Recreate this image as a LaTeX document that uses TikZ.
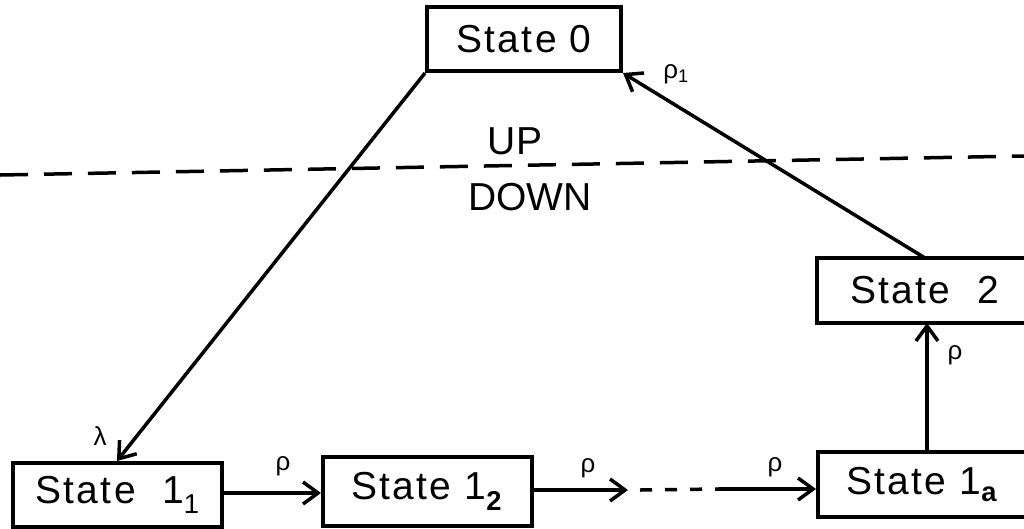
\documentclass[tikz,border=0pt]{standalone}
\usepackage{fontspec}
\setmainfont{Liberation Sans}
\newfontfamily\lab[LetterSpace=6]{Liberation Sans}
\usetikzlibrary{arrows.meta}
\begin{document}
\begin{tikzpicture}[x=1pt,y=-1pt,
  box/.style={draw,line width=4pt,inner sep=0pt,font=\lab\fontsize{39}{40}\selectfont},
  con/.style={line width=3.5pt,-{Straight Barb[length=15pt,width=22pt,line width=3.5pt]}},
  lbl/.style={font=\fontsize{26}{28}\selectfont,inner sep=0pt},
  big/.style={font=\fontsize{39}{40}\selectfont,inner sep=0pt}]
\clip (0,0) rectangle (1024,528);
\fill[white] (0,0) rectangle (1024,528);
\node[box,minimum width=194pt,minimum height=64pt] (s0) at (524,39) {State 0};
\node[box,minimum width=209pt,minimum height=64pt] (s11) at (117.5,495) {State\ \ 1\textsubscript{1}};
\node[box,minimum width=209pt,minimum height=69pt] (s12) at (427.5,491.5) {State 1\textsubscript{\textbf{2}}};
\node[box,minimum width=209pt,minimum height=65pt] (s1a) at (922.5,484.5) {State 1\textsubscript{\textbf{a}}};
\node[box,minimum width=215pt,minimum height=65pt] (s2) at (924.5,290.5) {State\ \ 2};
\coordinate (dl) at (0,175);
\coordinate (dr) at (1024,156);
\draw[line width=3.5pt,dash pattern=on 28pt off 16pt] (dl) -- (dr);
\node[big] (up) at (515,141) {UP};
\node[big] (down) at (530,197) {DOWN};
\coordinate (lt) at (117,461);
\draw[con] (s0.south west) -- (lt);
\node[lbl] (lam) at (100,436) {λ};
\coordinate (s2top) at (925,258);
\draw[con] (s2top) -- (s0.south east);
\node[lbl] (rho1) at (676,74) {ρ\textsubscript{1}};
\coordinate (s1atop) at (927,451);
\coordinate (s2bot) at (927,323);
\draw[con] (s1atop) -- (s2bot);
\node[lbl] (rho5) at (955,355) {ρ};
\draw[con] (s11.east |- 0,493) -- (s12.west |- 0,493);
\node[lbl] (rho2) at (283,466) {ρ};
\coordinate (c1) at (628,490);
\coordinate (c2) at (640,490);
\coordinate (c3) at (718,489);
\draw[con] (s12.east |- c1) -- (c1);
\draw[line width=3.5pt,dash pattern=on 12pt off 13pt] (c2) -- (c3);
\node[lbl] (rho3) at (588,468) {ρ};
\draw[con] (c3) -- (s1a.west |- c3);
\node[lbl] (rho4) at (775,467) {ρ};
\end{tikzpicture}
\end{document}
